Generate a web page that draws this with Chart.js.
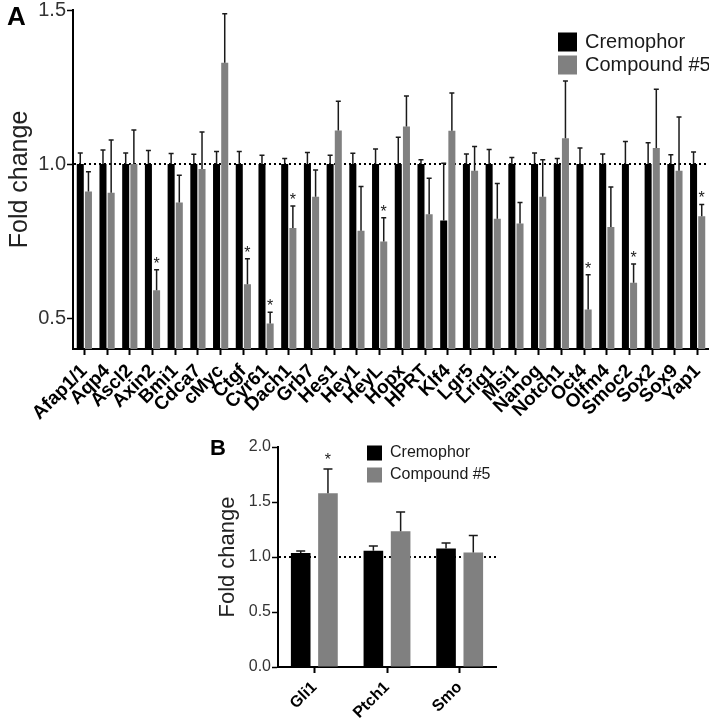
<!DOCTYPE html>
<html>
<head>
<meta charset="utf-8">
<script src="https://cdn.jsdelivr.net/npm/chart.js@4.4.0/dist/chart.umd.min.js"></script>
<style>
  body { margin: 0; background: #fff; }
  #wrap { position: relative; width: 709px; height: 719px; }
  canvas { position: absolute; }
</style>
</head>
<body>
<div id="wrap">
  <canvas id="chartA" width="709" height="430" style="left:0;top:0"></canvas>
  <canvas id="chartB" width="340" height="289" style="left:180px;top:430px"></canvas>
</div>
<script>
// panel A
var genesA = ['Afap1/1', 'Aqp4', 'Ascl2', 'Axin2', 'Bmi1', 'Cdca7', 'cMyc', 'Ctgf', 'Cyr61', 'Dach1',
  'Grb7', 'Hes1', 'Hey1', 'HeyL', 'Hopx', 'HPRT', 'Klf4', 'Lgr5', 'Lrig1', 'Msi1', 'Nanog', 'Notch1',
  'Oct4', 'Olfm4', 'Smoc2', 'Sox2', 'Sox9', 'Yap1'];
var cremA = [1, 1, 1, 1, 1, 1, 1, 1, 1, 1, 1, 1, 1, 1, 1, 1, 0.817, 1, 1, 1, 1, 1, 1, 1, 1, 1, 1, 1];
var cremSemA = [0.036, 0.046, 0.036, 0.044, 0.034, 0.032, 0.041, 0.041, 0.029, 0.018, 0.038, 0.029, 0.035, 0.049,
  0.087, 0.014, 0.186, 0.033, 0.047, 0.021, 0.036, 0.018, 0.052, 0.033, 0.073, 0.069, 0.030, 0.039];
var compA = [0.911, 0.907, 1.0, 0.591, 0.875, 0.984, 1.329, 0.610, 0.483, 0.793, 0.894, 1.109, 0.784, 0.749,
  1.122, 0.837, 1.108, 0.978, 0.823, 0.807, 0.894, 1.084, 0.528, 0.796, 0.615, 1.052, 0.978, 0.831];
var compSemA = [0.064, 0.171, 0.111, 0.066, 0.089, 0.120, 0.159, 0.083, 0.036, 0.071, 0.087, 0.095, 0.143, 0.077,
  0.099, 0.117, 0.123, 0.079, 0.114, 0.068, 0.120, 0.186, 0.113, 0.130, 0.061, 0.191, 0.175, 0.038];
var sigA = [0, 0, 0, 1, 0, 0, 0, 1, 1, 1, 0, 0, 0, 1, 0, 0, 0, 0, 0, 0, 0, 0, 1, 0, 1, 0, 0, 1];
var yTicksA = [0.5, 1.0, 1.5];

// panel B
var genesB = ['Gli1', 'Ptch1', 'Smo'];
var cremB = [1.036, 1.057, 1.078];
var cremSemB = [0.019, 0.043, 0.049];
var compB = [1.58, 1.233, 1.04];
var compSemB = [0.22, 0.177, 0.156];
var sigB = [1, 0, 0];
var yTicksB = [0, 0.5, 1.0, 1.5, 2.0];

var seriesNames = ['Cremophor', 'Compound #5'];
var colors = ['#000000', '#808080'];

Chart.defaults.font.family = '"Liberation Sans", Arial, Helvetica, sans-serif';
Chart.defaults.animation = false;

// dotted line at 1.0, error bars, stars, legend, panel letter
var extras = {
  id: 'extras',
  beforeDatasetsDraw: function(chart) {
    var ctx = chart.ctx, y = chart.scales.y, area = chart.chartArea;
    var py = y.getPixelForValue(1);
    ctx.save();
    ctx.strokeStyle = '#000';
    ctx.lineWidth = 2;
    ctx.setLineDash([2, 3]);
    ctx.beginPath();
    ctx.moveTo(area.left + 1, py);
    ctx.lineTo(area.right, py);
    ctx.stroke();
    ctx.restore();
  },
  afterDatasetsDraw: function(chart, args, o) {
    var ctx = chart.ctx, y = chart.scales.y;
    ctx.save();
    ctx.strokeStyle = '#1a1a1a';
    ctx.lineWidth = 1.5;
    chart.data.datasets.forEach(function(ds, i) {
      var meta = chart.getDatasetMeta(i);
      meta.data.forEach(function(bar, j) {
        var top = y.getPixelForValue(ds.data[j] + ds.sem[j]);
        ctx.beginPath();
        ctx.moveTo(bar.x, bar.y);
        ctx.lineTo(bar.x, top);
        ctx.moveTo(bar.x - o.cap, top);
        ctx.lineTo(bar.x + o.cap, top);
        ctx.stroke();
        if (ds.sig && ds.sig[j]) {
          ctx.fillStyle = '#1a1a1a';
          ctx.font = o.starSize + 'px "Liberation Sans", Arial';
          ctx.textAlign = 'center';
          ctx.textBaseline = 'alphabetic';
          ctx.fillText('*', bar.x, top - o.starGap);
        }
      });
    });
    ctx.restore();
  },
  afterDraw: function(chart, args, o) {
    var ctx = chart.ctx;
    ctx.save();
    ctx.textBaseline = 'middle';
    ctx.textAlign = 'left';
    ctx.font = o.legendSize + 'px "Liberation Sans", Arial';
    seriesNames.forEach(function(name, i) {
      var cy = o.legendY + i * o.legendGap;
      ctx.fillStyle = colors[i];
      ctx.fillRect(o.legendX, cy - o.box / 2, o.box, o.box);
      ctx.fillStyle = '#1a1a1a';
      ctx.fillText(name, o.legendX + o.box + 8, cy);
    });
    ctx.font = 'bold ' + o.letterSize + 'px "Liberation Sans", Arial';
    ctx.fillStyle = '#000';
    ctx.textBaseline = 'alphabetic';
    ctx.fillText(o.letter, o.letterX, o.letterY);
    ctx.restore();
  }
};

function makeChart(id, labels, s1, e1, s2, e2, sig, yMin, yMax, yTicks, cfg) {
  return new Chart(document.getElementById(id).getContext('2d'), {
    type: 'bar',
    data: {
      labels: labels,
      datasets: [{
        label: seriesNames[0],
        data: s1,
        sem: e1,
        backgroundColor: colors[0],
        categoryPercentage: cfg.catPct,
        barPercentage: cfg.barPct
      }, {
        label: seriesNames[1],
        data: s2,
        sem: e2,
        sig: sig,
        backgroundColor: colors[1],
        categoryPercentage: cfg.catPct,
        barPercentage: cfg.barPct
      }]
    },
    plugins: [extras],
    options: {
      responsive: false,
      layout: { padding: cfg.padding },
      plugins: {
        legend: { display: false },
        tooltip: { enabled: false },
        extras: cfg.extras
      },
      scales: {
        x: {
          afterFit: function(s) { s.height = cfg.xHeight; s.paddingLeft = 0; s.paddingRight = 0; },
          grid: { display: true, drawOnChartArea: false, offset: false, tickLength: 6, tickColor: '#000', tickWidth: 2 },
          border: { display: true, color: '#000', width: 2 },
          ticks: {
            autoSkip: false, maxRotation: 45, minRotation: 45, padding: cfg.xPad,
            color: '#000', font: { weight: 'bold', size: cfg.xFont }
          }
        },
        y: {
          min: yMin,
          max: yMax,
          afterFit: function(s) { s.width = cfg.yWidth; s.paddingTop = 0; s.paddingBottom = 0; },
          afterBuildTicks: function(s) { s.ticks = yTicks.map(function(v) { return { value: v }; }); },
          grid: { display: true, drawOnChartArea: false, tickLength: 6, tickColor: '#000', tickWidth: 1.5 },
          border: { display: true, color: '#000', width: 2 },
          ticks: {
            padding: 1, color: '#333', font: { size: cfg.yFont },
            callback: function(v) { return Number(v).toFixed(1); }
          },
          title: {
            display: true, text: 'Fold change', color: '#222',
            font: { size: cfg.titleFont }, padding: { top: cfg.titlePad, bottom: 0 }
          }
        }
      }
    }
  });
}

makeChart('chartA', genesA, cremA, cremSemA, compA, compSemA, sigA, 0.4, 1.5, yTicksA, {
  catPct: 0.72, barPct: 0.86,
  padding: { top: 10, right: 0, left: 0, bottom: 0 },
  xHeight: 81, yWidth: 73, xPad: 5, xFont: 19, yFont: 20, titleFont: 25, titlePad: 5,
  extras: { cap: 2.5, starSize: 16, starGap: 1, legendX: 558, legendY: 42, legendGap: 23, box: 19,
    legendSize: 20, letter: 'A', letterX: 7, letterY: 25, letterSize: 26 }
});

makeChart('chartB', genesB, cremB, cremSemB, compB, compSemB, sigB, 0, 2, yTicksB, {
  catPct: 0.75, barPct: 0.72,
  padding: { top: 17, right: 24, left: 0, bottom: 0 },
  xHeight: 52, yWidth: 98, xPad: 5, xFont: 16, yFont: 16, titleFont: 22, titlePad: 35,
  extras: { cap: 4.5, starSize: 16, starGap: 4, legendX: 187, legendY: 23, legendGap: 22, box: 15,
    legendSize: 16, letter: 'B', letterX: 30, letterY: 25, letterSize: 22 }
});
</script>
</body>
</html>
